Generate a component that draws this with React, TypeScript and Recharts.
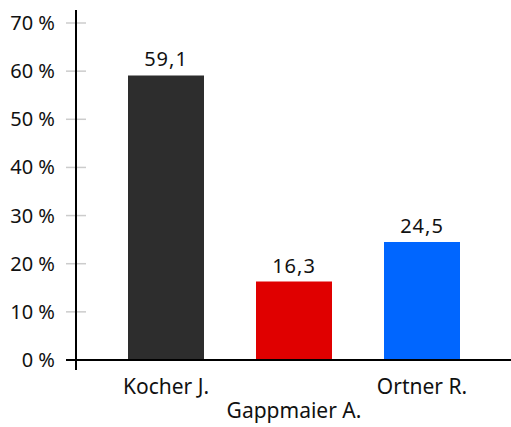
import React from 'react';
import { BarChart, Bar, XAxis, YAxis, Cell, LabelList } from 'recharts';

const candidates = ['Kocher J.', 'Gappmaier A.', 'Ortner R.'];
const shares = [59.1, 16.3, 24.5];
const barColors = ['#2d2d2d', '#e00000', '#0066ff'];
const yTicks = [0, 10, 20, 30, 40, 50, 60, 70];

const data = candidates.map((name, i) => ({ name, value: shares[i], color: barColors[i] }));

const W = 511;
const H = 427;
const AXIS_X = 76;
const AXIS_Y = 360;
const FONT = '"Noto Sans", sans-serif';

const YTick = (props: any) => {
  const { y, payload } = props;
  return (
    <g>
      <line x1={AXIS_X - 10} x2={AXIS_X + 10} y1={y} y2={y} stroke="#cccccc" strokeWidth={1.5} />
      <text x={55} y={y} dy={7} textAnchor="end" fontSize={20} fontFamily={FONT} fill="#111">
        {payload.value} %
      </text>
    </g>
  );
};

const XTick = (props: any) => {
  const { x, payload, index } = props;
  const dy = index % 2 === 1 ? 58 : 34;
  return (
    <text x={x} y={AXIS_Y} dy={dy} textAnchor="middle" fontSize={21} fontFamily={FONT} fill="#111">
      {payload.value}
    </text>
  );
};

const App: React.FC = () => {
  return (
    <div style={{ position: 'absolute', left: 0, top: 0, width: W, height: H, background: '#fff' }}>
      <BarChart width={W} height={H} data={data} margin={{ top: 23, right: 0, left: 0, bottom: 0 }}>
        <YAxis
          width={AXIS_X}
          domain={[0, 70]}
          ticks={yTicks}
          interval={0}
          axisLine={false}
          tickLine={false}
          tick={<YTick />}
        />
        <XAxis
          dataKey="name"
          height={H - AXIS_Y}
          padding={{ left: 26, right: 25 }}
          axisLine={false}
          tickLine={false}
          interval={0}
          tick={<XTick />}
        />
        <Bar dataKey="value" barSize={76} isAnimationActive={false}>
          {data.map((d) => (
            <Cell key={d.name} fill={d.color} />
          ))}
          <LabelList
            dataKey="value"
            position="top"
            offset={9}
            formatter={(v: any) => String(v).replace('.', ',')}
            style={{ fontFamily: FONT, fontSize: 20, fill: '#111', letterSpacing: 1 }}
          />
        </Bar>
      </BarChart>
      <svg width={W} height={H} style={{ position: 'absolute', left: 0, top: 0, pointerEvents: 'none' }}>
        <line x1={AXIS_X} x2={AXIS_X} y1={10} y2={370} stroke="#000" strokeWidth={2} />
        <line x1={66} x2={W} y1={AXIS_Y} y2={AXIS_Y} stroke="#000" strokeWidth={2} />
      </svg>
    </div>
  );
};

export default App;
